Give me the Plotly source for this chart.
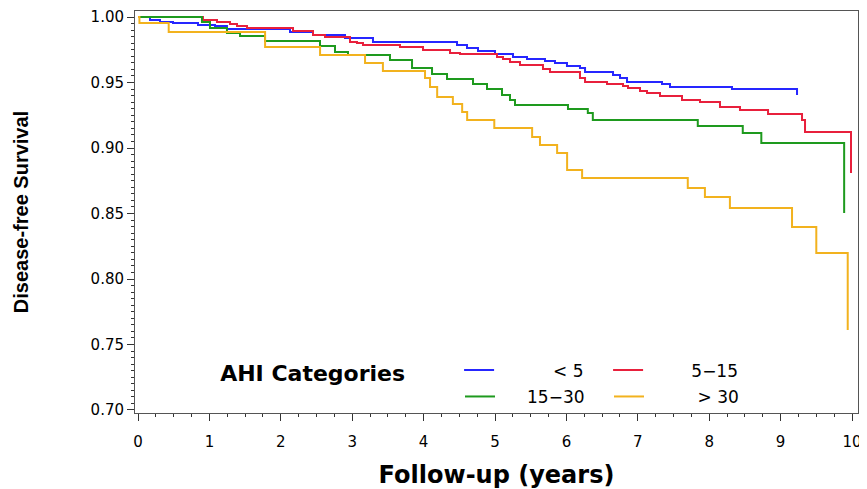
import plotly.graph_objects as go

# ---- data ----
categories = ["< 5", "5\u221215", "15\u221230", "> 30"]

t_lt5 = [0, 0.168, 0.308, 0.490, 0.840, 1.078, 1.246, 2.129, 2.451, 2.899, 3.291, 4.468, 4.608,
         4.762, 5.000, 5.252, 5.448, 5.700, 5.840, 6.008, 6.190, 6.261, 6.653, 6.751, 6.849,
         7.339, 7.451, 8.319, 9.230]
s_lt5 = [1.0, 0.9977, 0.9962, 0.9954, 0.9939, 0.9931, 0.9908, 0.9885, 0.9863, 0.9840, 0.9809,
         0.9786, 0.9763, 0.9740, 0.9718, 0.9695, 0.9679, 0.9664, 0.9649, 0.9626, 0.9611, 0.9580,
         0.9557, 0.9534, 0.9504, 0.9489, 0.9466, 0.9450, 0.9405]

t_5_15 = [0, 0.910, 1.106, 1.289, 1.387, 1.527, 2.171, 2.451, 2.619, 2.969, 3.067, 3.151, 3.669,
          3.992, 4.370, 4.510, 5.028, 5.112, 5.210, 5.350, 5.672, 5.770, 6.190, 6.261, 6.569,
          6.793, 6.863, 7.031, 7.129, 7.311, 7.619, 7.871, 8.151, 8.431, 8.824, 9.300, 9.342, 9.986]
s_5_15 = [1.0, 0.9977, 0.9962, 0.9947, 0.9931, 0.9916, 0.9893, 0.9863, 0.9847, 0.9809, 0.9802,
          0.9786, 0.9771, 0.9748, 0.9725, 0.9718, 0.9695, 0.9679, 0.9656, 0.9634, 0.9603, 0.9580,
          0.9534, 0.9504, 0.9489, 0.9473, 0.9458, 0.9435, 0.9420, 0.9397, 0.9366, 0.9351, 0.9313,
          0.9290, 0.9260, 0.9214, 0.9122, 0.8809]

t_15_30 = [0, 0.896, 1.008, 1.246, 1.429, 1.779, 2.549, 2.759, 2.941, 3.529, 3.838, 4.118, 4.328,
           4.692, 4.888, 5.098, 5.210, 5.280, 6.022, 6.300, 6.370, 7.840, 8.470, 8.730, 9.890]
s_15_30 = [1.0, 0.9962, 0.9916, 0.9878, 0.9855, 0.9817, 0.9779, 0.9733, 0.9710, 0.9672, 0.9611,
           0.9565, 0.9527, 0.9489, 0.9450, 0.9405, 0.9366, 0.9328, 0.9298, 0.9267, 0.9214, 0.9168,
           0.9115, 0.9038, 0.8504]

t_gt30 = [0, 0.02, 0.43, 1.78, 2.55, 3.18, 3.43, 4.02, 4.09, 4.19, 4.41, 4.54, 4.61, 4.99, 5.52,
          5.63, 5.87, 6.01, 6.22, 7.70, 7.94, 8.29, 9.16, 9.50, 9.94]
s_gt30 = [1.0, 0.9954, 0.9885, 0.9771, 0.9710, 0.9649, 0.9588, 0.9534, 0.9466, 0.9389, 0.9336,
          0.9275, 0.9214, 0.9153, 0.9084, 0.9023, 0.8962, 0.8832, 0.8771, 0.8695, 0.8626, 0.8542,
          0.8397, 0.8198, 0.7611]

x_ticks = [0, 1, 2, 3, 4, 5, 6, 7, 8, 9, 10]
y_ticks = [0.70, 0.75, 0.80, 0.85, 0.90, 0.95, 1.00]
y_ticklabels = ["0.70", "0.75", "0.80", "0.85", "0.90", "0.95", "1.00"]

colors = ["#2626ff", "#e8203c", "#1e9a1e", "#f2b21e"]
NB = "\u00a0"
legend_labels = [NB * 10 + categories[0],
                 NB * 8 + categories[1],
                 NB * 5 + categories[2],
                 NB * 9 + categories[3]]
legend_ids = ["legend", "legend", "legend2", "legend2"]

series = [(t_lt5, s_lt5), (t_5_15, s_5_15), (t_15_30, s_15_30), (t_gt30, s_gt30)]

fig = go.Figure()
for (t, s), name, col, lg in zip(series, legend_labels, colors, legend_ids):
    fig.add_trace(go.Scatter(x=t, y=s, mode="lines", name=name, legend=lg,
                             line=dict(color=col, width=2, shape="hv")))

legend_common = dict(
    orientation="h", xanchor="left", yanchor="middle",
    bgcolor="rgba(0,0,0,0)",
    font=dict(family="DejaVu Sans", size=17, color="black"),
    entrywidth=104, entrywidthmode="pixels",
    traceorder="normal",
)

# page has an 8px body margin; the figure is sized/margined to compensate
fig.update_layout(
    width=859, height=481,
    margin=dict(l=127, r=9, t=3, b=76, autoexpand=False),
    paper_bgcolor="white", plot_bgcolor="white",
    font=dict(family="DejaVu Sans", color="black"),
    showlegend=True,
    legend=dict(
        x=0.115, y=0.102,
        title=dict(text="AHI Categories" + NB * 6, side="left",
                   font=dict(family="DejaVu Sans", size=22, color="black", weight="bold")),
        **legend_common,
    ),
    legend2=dict(
        x=0.4495, y=0.040,
        **legend_common,
    ),
)

fig.update_xaxes(
    range=[-0.042, 10.084],
    tickvals=x_ticks,
    ticks="outside", ticklen=7, tickwidth=1, tickcolor="#333",
    minor=dict(dtick=0.25, ticks="outside", ticklen=3, tickcolor="#333"),
    showline=True, linecolor="#555", linewidth=1, mirror=True,
    showgrid=False, zeroline=False, automargin=False,
    tickfont=dict(family="DejaVu Sans", size=15),
    ticklabelstandoff=8,
    title=dict(text="Follow-up (years)", standoff=27,
               font=dict(family="DejaVu Sans", size=24, weight="bold")),
)
fig.update_yaxes(
    range=[0.6977, 1.0046],
    tickvals=y_ticks, ticktext=y_ticklabels,
    ticks="outside", ticklen=7, tickwidth=1, tickcolor="#333",
    minor=dict(dtick=0.005, ticks="outside", ticklen=3, tickcolor="#333"),
    showline=True, linecolor="#555", linewidth=1, mirror=True,
    showgrid=False, zeroline=False, automargin=False,
    tickfont=dict(family="DejaVu Sans", size=15),
    title=dict(text="Disease-free Survival", standoff=56,
               font=dict(family="Liberation Sans", size=20, weight="bold")),
)

fig.write_html("out.html")
